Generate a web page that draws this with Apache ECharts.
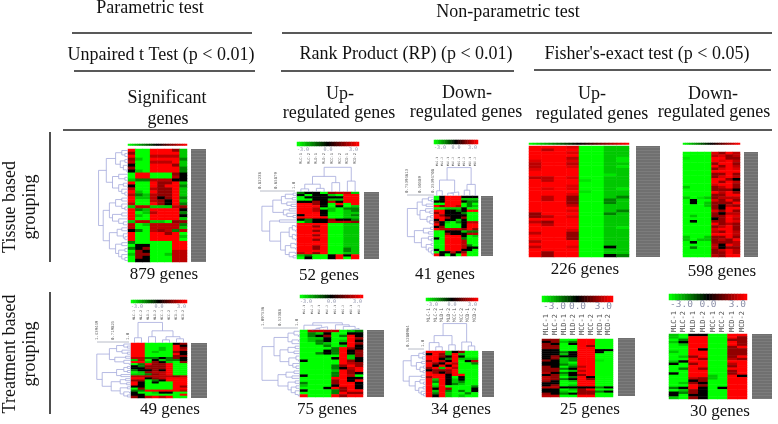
<!DOCTYPE html>
<html><head><meta charset="utf-8">
<style>html,body{margin:0;padding:0;background:#fff}#c{width:778px;height:424px}</style>
<script src="https://cdn.jsdelivr.net/npm/echarts@6/dist/echarts.min.js"></script>
</head><body><div id="c"></div>
<script>
const levels = {G:-3,h:-2.7,g:-2.35,d:-1.5,k:0,m:1.7,r:2.2,s:2.6,R:3};
const samplesT = ['MLC-1','MLC-2','MLD-1','MLD-2','MCC-1','MCC-2','MCD-1','MCD-2'];
const scaleTicks = ['-3.0','0.0','3.0'];
const barRamp = [-3,-2.75,-2.5,-2.25,-2,-1.75,-1.5,-1.25,-1,-0.75,-0.5,-0.25,0,0.25,0.5,0.75,1,1.25,1.5,1.75,2,2.25,2.5,2.75,3];

const tissueSig = ["RGGRRRmg","mGGRRRRg","RGGrrrrg","mgGRRRRd","rGGrrrRg","kGGRRRmg","mGGRRRRd","kgGRRRRd","GRRGGGmk","GRRGGGrk","gddrrrkk","RGGRmmRg","kGGRmRRd","rGGrmmRg","RgGRmmRg","rdgrmmRg","RggrkmRd","RGGrmkRg","rGGRmkRd","grrgggrm","RdgRRRRk","RGgrRRRd","RgGRRRRk","RGGRRRRg","grrggGmm","rGgrrrrd","rGGrrrrg","kdGrmrdr","RGGRRmRG","RGGRRRRg","RGGRRRRG","dGGGGGRR","GkkGGGRR","dkmGGGRR","GmkGGGrr","gmmGGgrr","GmkGGGrr","GkkGGGrr"];
const tissueUp = ["dkkGmrrg","kGkkgGRR","GkkkkkRR","GGkkggRR","kkmkrkRR","RRmkGRGR","RRRkGkGg","RRrGgGdd","RRrkgGgd","RRRkGGgg","kRRkGGgd","RRRRGGgg","kdkkmkkd","Gdkkrrrm","RRRRGGgg","RRmRGGgg","RRRRGGgg","RRmRGGgg","RRRRGGgg","RRmRGGgg","RRRRGGgg","RRmRGGgg","RRRRGGgg","RRRRGGgg","RRmRGGgg","RRmRGGdg","RRRRGGdg","rRmRGGgg","gdGGkRkR","GkGGkRGR"];
const tissueDown = ["GkRRRkkk","GkRRRggg","kkRRRkdd","GGRRRGdG","RmRRrGdg","GGgggkGG","RRkkdkRR","mRkkkdGG","RmkkkkGG","RRmkkmGG","kRkkgkGG","mkgGdkrr","RkGGGkRR","kmGGGkRR","RrrrrmRm","GGkkkgdd","GGmkkkrr","GGRRRkGg","kGRRRdGG","GGRRRrGG","GGRRRrGG","GGRRRrdG","GGRRRrkk","kGRRRkkG","GkkrkmGG","RkGkGRGG"];
const tissueFisherUp = ["RRRsGGgg","RrRRGGgg","RRRsGGgg","RRRRGGgg","RRRrGGgh","sRRsGGgh","rRRrGGgg","rRRsGGgh","sRRRGGgg","RRRRGGgg","RRRRGGhg","rrRsGGgg","RrRRhGgg","RRRRGGgg","RRRsGGgg","RsRsGGgh","RRRRhGgg","RRRsGGgg","RrRmGGgd","RrRmGGdg","RRRmGGdg","RRRrGGgg","RRRRGGgg","RRRsGGgd","mRRRGGdg","mrRsGGgg","RRRRGGgg","rmRRGGgg","RrRRGGgg","RRRRGGgh","RRRsGGgg","rRRmGGgg","RRRmGGgg","RRRmGGgg","rRRRGGgg","RRRRGGgg","rRRsGGkg","RRRRGGgg","RmRRGGgg","RmRRGGkd"];
const tissueFisherDown = ["GGGGsmRr","GGGGrsmr","hGGGRRmm","GGGGRsRr","GGGGmRRm","GGGGRmRr","GGGGmsRs","GGGGRRRR","GGGGmmRm","GGGGmsRr","GGGGRRmk","GGGGRmRr","GGGGsRRm","gGGGmrRm","GGGGmmmk","GGGGRrRm","GGGGmmRR","gGhgmrrr","GkGGsmRm","GkGgmmmR","GGGgmkrm","GGGGmkRR","GGGGsmRm","GGGGmkrr","GgGGmmRs","GGGGkmRr","GkGGmmRs","GGGGRmrm","GGGGmrRm","GGGGsRRm","GGGGrmRr","GGGGRRRr","gGGgmmRm","gGggmrmR","GkGGmmmr","GGGGrkRr","GdGGrkmm","GGGGmrRr","GGGGmmRr","GGGGrmRR"];
const treatSig = ["RRGGGGkm","RRGGGGRk","RRGGgGRm","RRGGgGRr","RRGgGGmk","RRGGGGRk","RRGGGGmm","rrddkdmk","grGkgddk","RRgmkgGm","GdRmmRGG","kdmmmRGG","kkmmmRGG","dkkmkRGG","GgmrrRGG","ggdmrRGG","rrrrrrmr","RRkmrRRR","mmGdkRRR","RkGkGGRR","RkGGGGRR","kkGGGGRm","GmGGGGRR","ddRRRRRr","kGGgkkGG","kkGGGGGR","mkrRrRGG"];
const treatUp = ["GrrrrGgd","GdgkGGkk","GdkmGdRk","GggkGGRm","GgdkGgRk","GGdgGkRm","GGGdGgRk","GGGGdRmk","GGGkdRkm","GGdkdRkm","GGGGGRgm","GGGGkRgk","kGGGGRmk","GGGGGRrm","GGGGdmRm","GGGGdkrR","GGGGgRmR","GGGGdRmk","kGGGdRrG","GGGGRRkk","GGGGmRkR","dGGGmRRk","gGGGkRRk","GGGkRmRk","kGGGdmRR","GGGGdRmm","RGGGRmRR"];
const treatDown = ["RRRgkmGG","kRmgRgGG","RRmkRkGG","RRkdRggg","mRrkRGkr","RmkRrGGd","RkRkRGGG","mRgRrGGG","kmmmRGGG","RmkmRGGG","RRRkRRGG","mRRkGkGG","RgRkgkGG","RdRkgdGG","RGRkdgGG","RgRGGGGd","RkRmGGGk","RgRdGdGk","RdRgGGdG","RkRgGgGG"];
const treatFisherUp = ["mmGGRRGG","kmgdRRGG","mkGkRRGG","mmGGRmGG","mmGGRRGG","kkGGRRkk","kkdkRRkG","kkgkRRGG","kmkkRRGG","kmgdRRGG","mkgdRRhG","kkgGRRGG","kkdgRRGG","mkGdrRGG","mmdkRRGG","mmGgrRGG","rkdkRRGG","kmgkmRGG","rmGdRkGG","rmdkRmGG","mkGgRRGG","kkGGRRGG","kmGgRRGG","rrkkkkdk","kkGgmRGG","kkgGmmdk","mkdkmmGG","rrGGRRGG"];
const treatFisherDown = ["gGkkGGRR","gGRRGGRm","GdRRGGmm","gkRRGGRm","GgRRGGRm","GGRRGGmR","GGRkGGmm","gGRRGGmm","GGRRGGmm","GgmRGGmR","GGRmGGrm","gkRRGGRR","kGmRGGrR","GGRRGGmR","GdRmGGRR","GGRRGGmR","kGRRGGmR","GGRRgGRk","GGrmgGRR","GGkmGGRR","GgmkGGRR","GGRmGGRR","dkRkGkRR","GgmkGGRR","kdmkGGRR","kGkkGGRR","gGmkGGRR"];

// Dendrograms: [height, child, child]; a number is a row or column index
const treeT1 = [0.95,[0.7,[0.4,[0.2,0,[0.1,1,2]],[0.25,[0.1,3,4],[0.15,5,[0.05,6,7]]]],[0.5,[0.3,8,[0.1,9,10]],[0.3,[0.15,11,12],[0.2,13,[0.1,14,15]]]]],[0.8,[0.6,[0.4,[0.2,16,17],[0.2,18,[0.1,19,20]]],[0.5,[0.2,21,22],[0.3,23,[0.15,24,25]]]],[0.6,[0.35,[0.2,26,27],[0.15,28,[0.1,29,30]]],[0.4,[0.2,31,32],[0.3,[0.1,33,34],[0.2,35,[0.1,36,37]]]]]]];
const treeU1 = [0.9,[0.62,[0.4,[0.3,[0.1,0,1],[0.12,2,3]],[0.26,4,[0.15,5,6]]],[0.35,[0.2,7,8],[0.26,9,[0.1,10,11]]]],[0.7,[0.45,12,13],[0.42,[0.2,[0.12,[0.05,14,15],[0.05,16,17]],[0.12,[0.05,18,19],[0.05,20,21]]],[0.3,[0.16,[0.05,22,23],[0.05,24,25]],[0.2,[0.05,26,27],[0.1,28,29]]]]]];
const treeU1c = [0.95,[0.6,[0.3,[0.12,0,1],[0.14,2,3]],[0.36,4,5]],[0.42,6,7]];
const treeD1 = [0.95,[0.6,[0.42,[0.2,0,[0.1,1,2]],[0.28,3,4]],[0.5,[0.3,5,[0.15,6,7]],[0.25,[0.12,8,9],[0.15,10,[0.05,11,12]]]]],[0.7,[0.38,[0.12,13,14],[0.2,15,16]],[0.45,[0.2,17,[0.1,18,19]],[0.28,[0.1,20,21],[0.2,22,[0.1,23,[0.05,24,25]]]]]]];
const treeD1c = [0.98,[0.55,[0.18,0,1],[0.14,[0.1,2,3],4]],[0.4,[0.2,5,6],7]];
const treeS2 = [0.95,[0.6,[0.4,[0.2,0,[0.1,1,2]],[0.25,3,[0.1,4,5]]],[0.45,[0.15,6,7],[0.2,8,[0.05,9,10]]]],[0.8,[0.4,[0.2,[0.1,11,12],[0.1,13,14]],[0.28,15,16]],[0.55,[0.3,[0.15,17,18],[0.12,19,20]],[0.3,[0.1,21,22],[0.2,[0.05,23,24],[0.1,25,26]]]]]];
const treeS2c = [0.98,[0.25,0,1],[0.58,[0.3,2,3],[0.3,[0.15,4,5],[0.2,6,7]]]];
const treeU2 = [0.95,[0.65,[0.3,[0.15,0,[0.05,1,2]],[0.2,[0.05,3,4],5]],[0.5,[0.3,[0.12,6,7],[0.15,8,9]],[0.28,[0.1,10,[0.05,11,12]],[0.18,13,[0.1,14,15]]]]],[0.55,[0.35,[0.15,16,17],[0.2,18,19]],[0.3,[0.12,20,21],[0.22,[0.1,22,23],[0.12,24,[0.05,25,26]]]]]];
const treeU2c = [0.9,[0.6,0,[0.4,[0.2,1,2],3]],[0.65,4,[0.45,5,[0.2,6,7]]]];
const treeD2 = [0.95,[0.62,[0.3,[0.12,0,1],[0.15,2,3]],[0.4,[0.18,4,5],[0.25,[0.1,6,7],[0.12,8,9]]]],[0.7,[0.2,10,11],[0.45,[0.25,12,[0.1,13,14]],[0.3,[0.12,15,16],[0.2,17,[0.1,18,19]]]]]];
const treeD2c = [0.98,[0.55,[0.3,0,[0.15,1,2]],[0.22,3,4]],[0.32,5,[0.18,6,7]]];

// Layout of each panel in page pixels: heat map, gene label block, colour bar, dendrograms
const panels = [
 {rows:tissueSig,box:[128,149,59,113],genes:[191,206,149,262],bar:[128,144,59,1.5],tiny:true,dr:treeT1,drx:[97,128],count:['879 genes',164,275]},
 {rows:tissueUp,box:[297,192,62,67],genes:[364,379,192,259],bar:[297,142,62,4],dr:treeU1,drx:[258,297],dc:treeU1c,dcy:[166,192],sc:['0.82238','0.65879','1.0'],scX:[260,276,294],scY:191,names:[153,3.7],count:['52 genes',329,276]},
 {rows:tissueDown,box:[434,196,44,60],genes:[481,493,196,256],bar:[434,140,44,4],dr:treeD1,drx:[406,434],dc:treeD1c,dcy:[167,196],sc:['0.75394613','0.50589','0.25394708'],scX:[407,420,433],scY:195,names:[157,3],count:['41 genes',445,275]},
 {rows:tissueFisherUp,box:[529,146,100,111],genes:[636,660,146,257],bar:[529,143,100,1.5],tiny:true,count:['226 genes',585,270]},
 {rows:tissueFisherDown,box:[683,152,57,105],genes:[744,758,152,257],bar:[683,143,57,1.5],tiny:true,count:['598 genes',722,272]},
 {rows:treatSig,box:[131,343,56,55],genes:[191,207,343,398],bar:[131,300,56,3],dr:treeS2,drx:[95,131],dc:treeS2c,dcy:[322,343],sc:['1.439449','0.719825','1.0'],scX:[97,113,128],scY:342,names:[310,3.4],count:['49 genes',170,410]},
 {rows:treatUp,box:[300,330,63,67],genes:[367,384,330,397],bar:[300,295,63,3],dr:treeU2,drx:[260,300],dc:treeU2c,dcy:[322,330],sc:['1.097536','0.52388','1.0'],scX:[263,280,297],scY:328,names:[305,3],count:['75 genes',327,410]},
 {rows:treatDown,box:[426,351,52,46],genes:[482,494,351,397],bar:[426,298,52,3],dr:treeD2,drx:[402,426],dc:treeD2c,dcy:[323,351],sc:['0.5280964','1.0'],scX:[408,423],scY:349,names:[308,4.7],count:['34 genes',461,410]},
 {rows:treatFisherUp,box:[542,339,71,58],genes:[618,635,338,396],bar:[542,296,71,6],names:[314,7],big:true,count:['25 genes',590,410]},
 {rows:treatFisherDown,box:[669,334,78,65],genes:[752,772,334,399],bar:[669,294,78,6],names:[311,7],big:true,count:['30 genes',720,412]}
];

const headers = [
 ['Parametric test',150,8],['Non-parametric test',508,12],
 ['Unpaired t Test (p < 0.01)',161,55],['Rank Product (RP) (p < 0.01)',406,54],["Fisher's-exact test (p < 0.05)",647,54],
 ['Significant',167,98],['genes',168,119],['Up-',340,94],['regulated genes',339,113],
 ['Down-',467,93],['regulated genes',466,112],['Up-',592,94],['regulated genes',592,114],
 ['Down-',713,94],['regulated genes',714,112]
];
const sideLabels = [['Tissue based',10,207],['grouping',30,207],['Treatment based',10,354],['grouping',30,354]];
const rules = [[72,33,252,33],[282,33,772,33],[74,71,255,71],[281,71,514,71],[534,70,771,70],[63,130,772,130],[50,132,50,262],[50,292,50,414]];

const SERIF = '"Liberation Serif","Times New Roman",serif';
const MONO = '"DejaVu Sans Mono",monospace';
const grid=[],xAxis=[],yAxis=[],series=[],graphic=[],heatIdx=[];

function addGrid(x,y,w,h,xa,ya){
  grid.push({left:x,top:y,width:w,height:h,containLabel:false});
  xAxis.push(Object.assign({gridIndex:grid.length-1,show:false},xa));
  yAxis.push(Object.assign({gridIndex:grid.length-1,show:false},ya));
  return grid.length-1;
}
function heat(gi,data){
  heatIdx.push(series.length);
  series.push({type:'heatmap',xAxisIndex:gi,yAxisIndex:gi,data,silent:true,animation:false,progressive:0,itemStyle:{borderWidth:0}});
}
// Turn a merge tree into line segments, [leafPosition,height] pairs, broken by gaps
function treePath(node,out,swap){
  if(typeof node==='number') return [node+0.5,0];
  const a=treePath(node[1],out,swap), b=treePath(node[2],out,swap), h=node[0];
  const pts=[[a[0],a[1]],[a[0],h],[b[0],h],[b[0],b[1]]];
  pts.forEach(p=>out.push(swap?[p[1],p[0]]:[p[0],p[1]]));
  out.push(['-','-']);
  return [(a[0]+b[0])/2,h];
}
function lineSeries(gi,data,color){
  series.push({type:'line',xAxisIndex:gi,yAxisIndex:gi,data,showSymbol:false,symbol:'none',silent:true,animation:false,connectNulls:false,
    lineStyle:{color:color,width:0.8},z:3});
}
function text(t,x,y,font,fill,align,rot,bl){
  graphic.push({type:'text',x,y,rotation:rot||0,silent:true,z:20,
    style:{text:t,font,fill:fill||'#111',align:align||'center',verticalAlign:bl||'middle'}});
}

panels.forEach(p=>{
  const nr=p.rows.length, nc=p.rows[0].length, [bx,by,bw,bh]=p.box;
  const data=[];
  p.rows.forEach((row,r)=>{ for(let c=0;c<nc;c++) data.push([c,r,levels[row[c]]]); });
  const gi=addGrid(bx,by,bw,bh,
    {type:'category',data:samplesT.slice(0,nc)},
    {type:'category',inverse:true,data:p.rows.map((_,i)=>i)});
  heat(gi,data);
  // colour bar, a one-row heat map of the ramp
  const [cx,cy,cw,ch]=p.bar;
  const bi=addGrid(cx,cy,cw,ch,{type:'category',data:barRamp.map(String)},{type:'category',data:['v']});
  heat(bi,barRamp.map((v,i)=>[i,0,v]));
  if(p.dr){
    const g=addGrid(p.drx[0],by,p.drx[1]-p.drx[0],bh,{type:'value',min:0,max:1,inverse:true},{type:'value',min:0,max:nr,inverse:true});
    const out=[]; treePath(p.dr,out,true); lineSeries(g,out,'#a5a9dc');
  }
  if(p.dc){
    const g=addGrid(bx,p.dcy[0],bw,p.dcy[1]-p.dcy[0],{type:'value',min:0,max:nc},{type:'value',min:0,max:1});
    const out=[]; treePath(p.dc,out,false); lineSeries(g,out,'#a5a9dc');
  }
  // gene label block (illegible in the source at this size)
  const [gx0,gx1,gy0,gy1]=p.genes;
  graphic.push({type:'rect',shape:{x:gx0,y:gy0,width:gx1-gx0,height:gy1-gy0},style:{fill:'#707070'},silent:true,z:5});
  for(let y=gy0+1.5;y<gy1;y+=3){
    graphic.push({type:'line',shape:{x1:gx0,y1:y,x2:gx1,y2:y},style:{stroke:'rgba(255,255,255,0.09)',lineWidth:1},silent:true,z:6});
  }
  // colour bar captions and sample names
  if(!p.tiny){
    const fs=p.big?9.5:5, labY=cy+ch+(p.big?5:3.5);
    text(scaleTicks[0],cx+(p.big?1:0),labY,fs+'px '+MONO,'#8a8fa8','left');
    text(scaleTicks[1],cx+cw/2,labY,fs+'px '+MONO,'#8a8fa8','center');
    text(scaleTicks[2],cx+cw-1,labY,fs+'px '+MONO,'#8a8fa8','right');
    const [ny,fn]=p.names;
    samplesT.forEach((n,i)=>{
      text(n,bx+(i+0.5)*bw/nc,ny,fn+'px '+MONO,'#555','right',Math.PI/2,'middle');
    });
  }
  if(p.sc){
    graphic.push({type:'line',shape:{x1:p.scX[0],y1:p.scY,x2:p.scX[p.scX.length-1]+1,y2:p.scY},style:{stroke:'#b8bcc8',lineWidth:1},silent:true,z:6});
    p.sc.forEach((t,i)=>text(t,p.scX[i],p.scY-2,'4px '+MONO,'#666','left',Math.PI/2,'middle'));
  }
  text(p.count[0],p.count[1],p.count[2],'17px '+SERIF,'#111');
});

headers.forEach(h=>text(h[0],h[1],h[2],'18px '+SERIF,'#111'));
sideLabels.forEach(s=>text(s[0],s[1],s[2],'18px '+SERIF,'#111','center',Math.PI/2));
rules.forEach(r=>graphic.push({type:'line',shape:{x1:r[0],y1:r[1],x2:r[2],y2:r[3]},style:{stroke:'#222',lineWidth:1.6},silent:true,z:10}));

const chart=echarts.init(document.getElementById('c'),null,{renderer:'canvas'});
chart.setOption({animation:false,backgroundColor:'#fff',tooltip:{show:false},grid,xAxis,yAxis,series,graphic,
  visualMap:{type:'continuous',show:false,seriesIndex:heatIdx,dimension:2,min:-3,max:3,inRange:{color:['#00ff00','#000000','#ff0000']}}});
</script></body></html>
